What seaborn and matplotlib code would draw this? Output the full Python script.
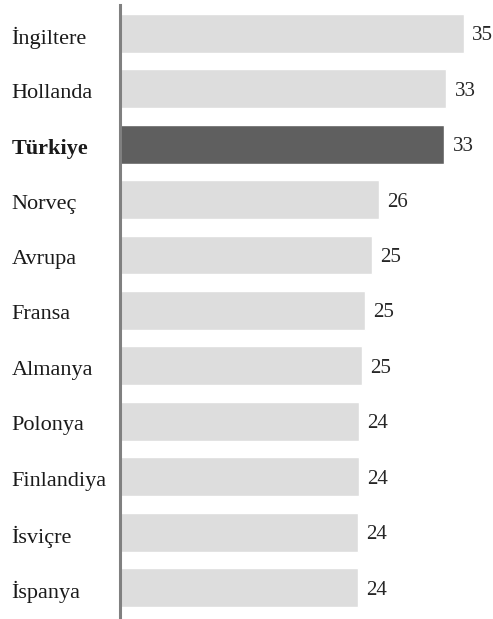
import matplotlib
matplotlib.use("Agg")
import matplotlib.pyplot as plt
import matplotlib.transforms as mtransforms
import seaborn as sns
import pandas as pd

categories = ["İngiltere", "Hollanda", "Türkiye", "Norveç", "Avrupa", "Fransa",
              "Almanya", "Polonya", "Finlandiya", "İsviçre", "İspanya"]
values = [35.0, 33.2, 33.0, 26.3, 25.6, 24.9, 24.6, 24.3, 24.3, 24.2, 24.2]
value_labels = ["35", "33", "33", "26", "25", "25", "25", "24", "24", "24", "24"]
highlight = "Türkiye"

sns.set_theme(style="white")
plt.rcParams["font.family"] = ["Liberation Serif", "DejaVu Serif"]

df = pd.DataFrame({"country": categories, "value": values})
df["grp"] = ["hl" if c == highlight else "other" for c in categories]

fig = plt.figure(figsize=(4.93, 6.19), dpi=100)
ax = fig.add_axes([120 / 493, 2 / 619, 373 / 493, 612 / 619])

sns.barplot(data=df, x="value", y="country", hue="grp", orient="h",
            palette={"hl": "#5f5f5f", "other": "#dddddd"}, dodge=False,
            width=0.7, legend=False, ax=ax, saturation=1)

ax.set_xlim(0, 373 / 9.83)
ax.set_ylim(10.53, -0.51)

shift = mtransforms.ScaledTranslation(0, -3 / 100, fig.dpi_scale_trans)
for container in ax.containers:
    labs = []
    for bar in container:
        y = bar.get_y() + bar.get_height() / 2
        idx = int(round(y))
        labs.append(value_labels[idx])
    texts = ax.bar_label(container, labels=labs, padding=6, fontsize=15,
                         color="#262626", clip_on=False)
    for t in texts:
        t.set_verticalalignment("center_baseline")
        t.set_transform(t.get_transform() + shift)

for s in ["top", "right", "bottom"]:
    ax.spines[s].set_visible(False)
ax.spines["left"].set_color("#808080")
ax.spines["left"].set_linewidth(2.2)
ax.set_xticks([])
ax.set_xlabel("")
ax.set_ylabel("")
ax.tick_params(axis="y", length=0, pad=78)
lshift = mtransforms.ScaledTranslation(0, -2 / 100, fig.dpi_scale_trans)
for lab in ax.get_yticklabels():
    lab.set_horizontalalignment("left")
    lab.set_fontsize(16)
    lab.set_color("#1a1a1a")
    lab.set_transform(lab.get_transform() + lshift)
    if lab.get_text() == highlight:
        lab.set_fontweight("bold")

fig.savefig("out.png", dpi=100)
